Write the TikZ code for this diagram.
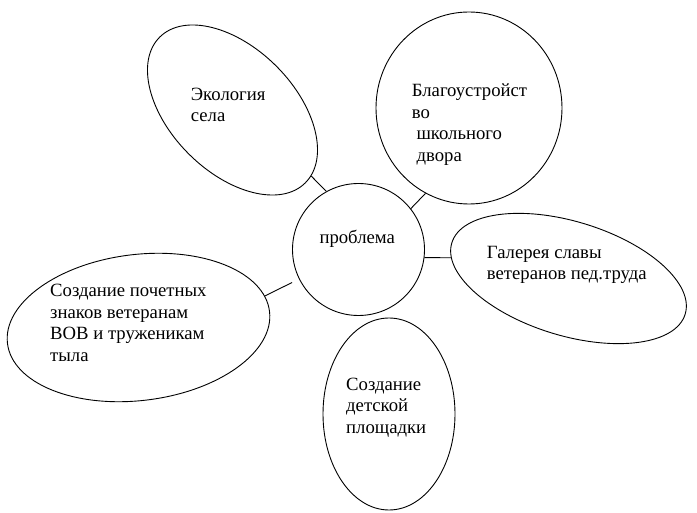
\documentclass[tikz,border=0pt]{standalone}
\usepackage{fontspec}
\setmainfont{Liberation Serif}
\usetikzlibrary{shapes.geometric}

\begin{document}
\begin{tikzpicture}[x=1pt,y=-1pt,
  bub/.style={ellipse,draw,inner sep=0pt,line width=0.9pt},
  txt/.style={anchor=base west,align=left,inner sep=0pt,font=\fontsize{18.7}{21.6}\selectfont},
  link/.style={line width=0.9pt}
]
\useasboundingbox (0,0) rectangle (697,513);
\node[bub, circle, minimum size=132pt] (prob) at (358.5,249.5) {};
\node[bub, rotate=-45, minimum width=206pt, minimum height=124pt] (eco) at (232.5,110) {};
\node[bub, minimum width=186pt, minimum height=192pt] (blag) at (469,108) {};
\node[bub, rotate=-17, minimum width=244pt, minimum height=114pt] (gal) at (568.5,278.5) {};
\node[bub, rotate=7, minimum width=264pt, minimum height=146pt] (znak) at (138.5,327.5) {};
\node[bub, minimum width=132pt, minimum height=192pt] (play) at (389,414) {};
% base anchor sits on the last line
\node[txt] (probtext) at (319.3,244) {проблема};
\node[txt] (ecotext) at (190.7,121.7) {Экология\\села};
\node[txt] (blagtext) at (411.7,161.5) {Благоустройст\\во\\\ школьного\\\ двора};
\node[txt] (galtext) at (486.7,280) {Галерея славы\\ветеранов пед.труда};
\node[txt] (znaktext) at (50,361.5) {Создание почетных\\знаков ветеранам\\ВОВ и труженикам\\тыла};
\node[txt] (playtext) at (346,433.5) {Создание\\детской\\площадки};
\draw[link] (eco.5) -- (prob.119);
\draw[link] (blag.243) -- (prob.38);
\draw[link] (prob.-7) -- (gal.187);
\draw[link] (znak.7) -- ([yshift=-33pt]prob.west);
\end{tikzpicture}
\end{document}
